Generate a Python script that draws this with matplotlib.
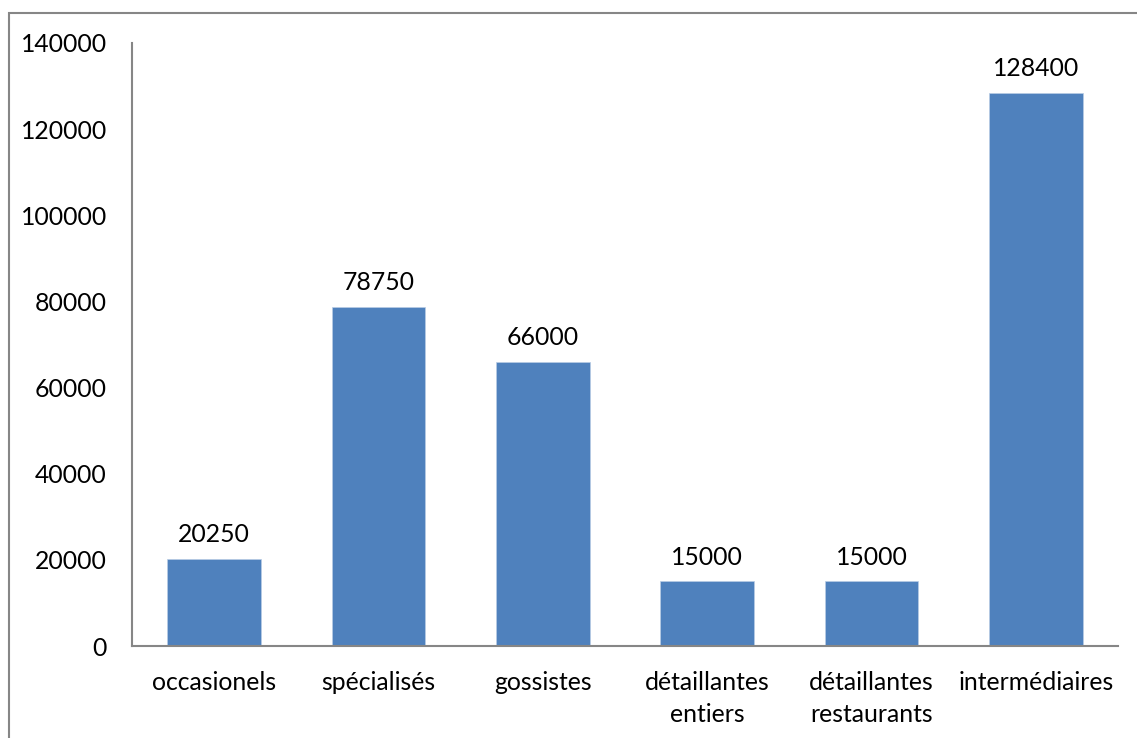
import matplotlib.pyplot as plt
from matplotlib.patches import Rectangle

categories = ["occasionels", "spécialisés", "gossistes",
              "détaillantes\nentiers", "détaillantes\nrestaurants", "intermédiaires"]
values = [20250, 78750, 66000, 15000, 15000, 128400]
yticks = [0, 20000, 40000, 60000, 80000, 100000, 120000, 140000]

bar_colour = "#4F81BD"
axis_colour = "#868686"

plt.rcParams['font.family'] = ['Lato', 'DejaVu Sans']

fig = plt.figure(figsize=(11.37, 7.38), dpi=100)
ax = fig.add_axes([132/1137, 1 - 646/738, (1118 - 132)/1137, (646 - 43)/738])

x = range(len(categories))
bars = ax.bar(x, values, width=0.571, color=bar_colour, edgecolor="#b9cde5", linewidth=0.5)

for b, v in zip(bars, values):
    ax.annotate(str(v), (b.get_x() + b.get_width()/2, v), xytext=(0, 9),
                textcoords="offset points", ha="center", va="bottom", fontsize=17.8)

ax.set_xlim(-0.5, len(categories) - 0.5)
ax.set_ylim(0, 140000)
ax.set_yticks(yticks)
ax.set_yticklabels([str(t) for t in yticks])
ax.set_xticks(list(x))
ax.set_xticklabels(categories, linespacing=1.45)
ax.tick_params(axis="y", length=0, pad=18, labelsize=17.8)
ax.tick_params(axis="x", length=0, pad=18, labelsize=17.8)

for s in ("top", "right"):
    ax.spines[s].set_visible(False)
for s in ("left", "bottom"):
    ax.spines[s].set_color(axis_colour)
    ax.spines[s].set_linewidth(1.5)

# outer chart frame, only its left and top edges fall inside the image
fig.patches.append(Rectangle((9/1137, -0.1), 1.2, 1 - 13/738 + 0.1, transform=fig.transFigure,
                             fill=False, edgecolor=axis_colour, linewidth=1.5))

fig.savefig("out.png", dpi=100)
